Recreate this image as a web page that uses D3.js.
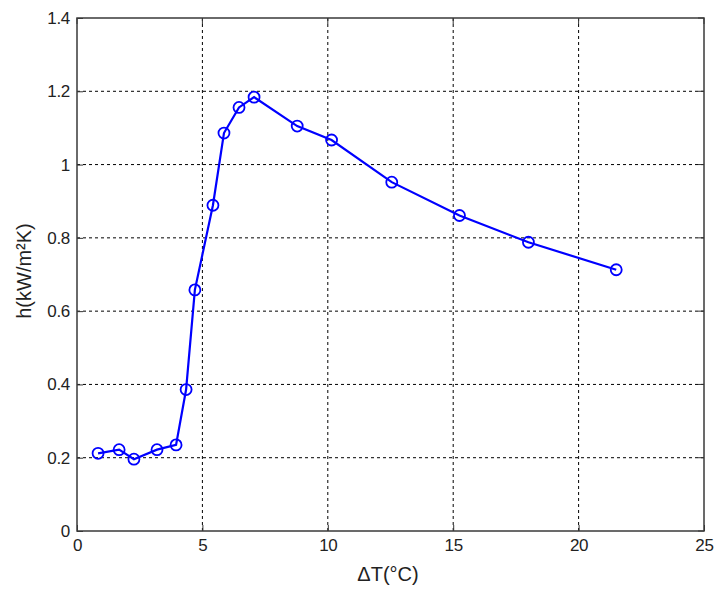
<!DOCTYPE html>
<html><head><meta charset="utf-8">
<script src="https://cdn.jsdelivr.net/npm/d3@7"></script>
<style>body{margin:0;background:#fff;} text{font-family:"Liberation Sans",Arial,sans-serif;}</style>
</head><body><svg id="c" width="714" height="589"></svg>
<script>
const deltaT = [0.84, 1.68, 2.27, 3.19, 3.95, 4.35, 4.70, 5.42, 5.86, 6.46, 7.06, 8.78, 10.15, 12.55, 15.25, 18.0, 21.5];
const hValues = [0.212, 0.222, 0.196, 0.222, 0.235, 0.386, 0.658, 0.889, 1.086, 1.156, 1.184, 1.105, 1.067, 0.952, 0.861, 0.788, 0.713];
const xTicks = [0, 5, 10, 15, 20, 25];
const yTicks = [0, 0.2, 0.4, 0.6, 0.8, 1, 1.2, 1.4];

const L = 77, R = 704, T = 18, B = 531;
const svg = d3.select("#c");
const x = d3.scaleLinear().domain([0, 25]).range([L, R]);
const y = d3.scaleLinear().domain([0, 1.4]).range([B, T]);

// grid
const g = svg.append("g");
g.selectAll(".gx").data(xTicks.slice(1, -1)).enter().append("line")
  .attr("x1", d => x(d)).attr("x2", d => x(d)).attr("y1", T).attr("y2", B)
  .attr("stroke", "#000").attr("stroke-width", 1).attr("stroke-dasharray", "3,3");
g.selectAll(".gy").data(yTicks.slice(1, -1)).enter().append("line")
  .attr("y1", d => y(d)).attr("y2", d => y(d)).attr("x1", L).attr("x2", R)
  .attr("stroke", "#000").attr("stroke-width", 1).attr("stroke-dasharray", "3,3");

// axes
const xAxis = d3.axisBottom(x).tickValues(xTicks).tickFormat(d3.format("d")).tickSizeInner(-6).tickSizeOuter(0).tickPadding(8);
const yAxis = d3.axisLeft(y).tickValues(yTicks).tickFormat(d => d === 1 ? "1" : d === 0 ? "0" : d3.format(".1f")(d)).tickSizeInner(-6).tickSizeOuter(0).tickPadding(7);
const ax = svg.append("g").attr("transform", `translate(0,${B})`).call(xAxis);
const ay = svg.append("g").attr("transform", `translate(${L},0)`).call(yAxis);
[ax, ay].forEach(a => {
  a.select(".domain").remove();
  a.selectAll("line").attr("stroke", "#333");
  a.selectAll("text").attr("font-size", 17).attr("fill", "#222").attr("letter-spacing", -0.3);
});
ax.selectAll("text").attr("dy", "0.71em");
// top/right ticks
svg.append("g").selectAll("line").data(xTicks).enter().append("line")
  .attr("x1", d => x(d)).attr("x2", d => x(d)).attr("y1", T).attr("y2", T + 6).attr("stroke", "#333");
svg.append("g").selectAll("line").data(yTicks).enter().append("line")
  .attr("y1", d => y(d)).attr("y2", d => y(d)).attr("x1", R).attr("x2", R - 6).attr("stroke", "#333");

// frame
svg.append("rect").attr("x", L).attr("y", T).attr("width", R - L).attr("height", B - T)
  .attr("fill", "none").attr("stroke", "#3a3a3a").attr("stroke-width", 1.5);

// line + markers
const data = deltaT.map((d, i) => [d, hValues[i]]);
svg.append("path").datum(data)
  .attr("d", d3.line().x(d => x(d[0])).y(d => y(d[1])))
  .attr("fill", "none").attr("stroke", "#0000ff").attr("stroke-width", 2.2);
svg.append("g").selectAll("circle").data(data).enter().append("circle")
  .attr("cx", d => x(d[0])).attr("cy", d => y(d[1])).attr("r", 5.5)
  .attr("fill", "none").attr("stroke", "#0000ff").attr("stroke-width", 1.8);

// labels
svg.append("text").attr("x", 388).attr("y", 581).attr("text-anchor", "middle")
  .attr("font-size", 20).attr("fill", "#222").text("ΔT(°C)");
svg.append("text").attr("transform", `translate(31,271) rotate(-90)`).attr("text-anchor", "middle")
  .attr("font-size", 20).attr("fill", "#222").text("h(kW/m²K)");
</script></body></html>
